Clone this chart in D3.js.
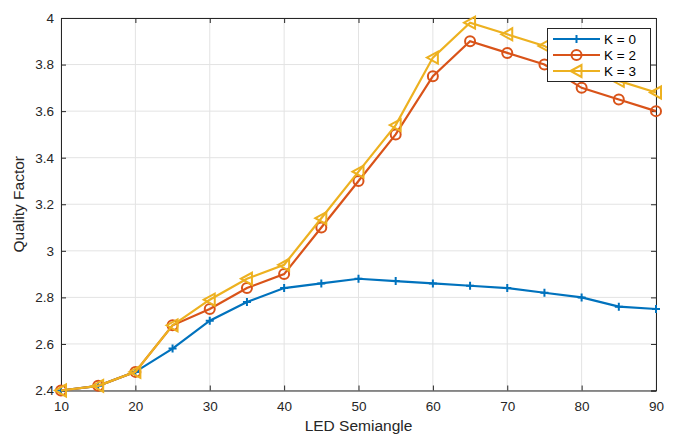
<!DOCTYPE html>
<html><head><meta charset="utf-8">
<script src="https://cdn.jsdelivr.net/npm/d3@7"></script>
<style>body{margin:0;background:#fff}svg{display:block}text{font-family:"Liberation Sans",Arial,Helvetica,sans-serif}</style>
</head><body><svg id="c" width="673" height="437"></svg>
<script>
const xs = [10,15,20,25,30,35,40,45,50,55,60,65,70,75,80,85,90];
const k0 = [2.40,2.42,2.48,2.58,2.70,2.78,2.84,2.86,2.88,2.87,2.86,2.85,2.84,2.82,2.80,2.76,2.75];
const k2 = [2.40,2.42,2.48,2.68,2.75,2.84,2.90,3.10,3.30,3.50,3.75,3.90,3.85,3.80,3.70,3.65,3.60];
const k3 = [2.40,2.42,2.48,2.68,2.79,2.88,2.94,3.14,3.34,3.54,3.83,3.98,3.93,3.88,3.78,3.73,3.68];
const seriesNames = ["K = 0","K = 2","K = 3"];
const xTicks = [10,20,30,40,50,60,70,80,90];
const yTicks = [2.4,2.6,2.8,3,3.2,3.4,3.6,3.8,4];
const colors = ["#0072BD","#D95319","#EDB120"];
const markers = ["plus","circle","triangle"];

const svg = d3.select("#c");
const L=61,R=656,T=18,B=390.5;
const x = d3.scaleLinear().domain([10,90]).range([L,R]);
const y = d3.scaleLinear().domain([2.4,4]).range([B,T]);

// grid
svg.append("g").selectAll("line").data(xTicks).join("line")
  .attr("x1",d=>x(d)).attr("x2",d=>x(d)).attr("y1",T).attr("y2",B)
  .attr("stroke","#e3e3e3").attr("stroke-width",1);
svg.append("g").selectAll("line").data(yTicks).join("line")
  .attr("y1",d=>y(d)).attr("y2",d=>y(d)).attr("x1",L).attr("x2",R)
  .attr("stroke","#e3e3e3").attr("stroke-width",1);

// axes
const ax = svg.append("g").attr("transform",`translate(0,${B})`)
  .call(d3.axisBottom(x).tickValues(xTicks).tickSize(-5).tickPadding(11).tickFormat(d3.format("d")));
const axT = svg.append("g").attr("transform",`translate(0,${T})`)
  .call(d3.axisTop(x).tickValues(xTicks).tickSize(-5).tickFormat(""));
const ay = svg.append("g").attr("transform",`translate(${L},0)`)
  .call(d3.axisLeft(y).tickValues(yTicks).tickSize(-5).tickPadding(7).tickFormat(d=>d3.format("")(+d.toFixed(1))));
const ayR = svg.append("g").attr("transform",`translate(${R},0)`)
  .call(d3.axisRight(y).tickValues(yTicks).tickSize(-5).tickFormat(""));
[ax,axT,ay,ayR].forEach(g=>{
  g.select(".domain").attr("stroke","#262626").attr("stroke-width",1);
  g.selectAll(".tick line").attr("stroke","#262626");
  g.selectAll(".tick text").attr("fill","#262626").style("font-size","13.5px");
});

// series
const data = [k0,k2,k3];
const line = d3.line().x(d=>x(d[0])).y(d=>y(d[1]));
function drawMarker(g, type, color){
  if(type==="plus"){
    g.append("path").attr("d","M-4,0H4M0,-4V4").attr("stroke",color).attr("stroke-width",2).attr("fill","none");
  } else if(type==="circle"){
    g.append("circle").attr("r",5).attr("stroke",color).attr("stroke-width",2).attr("fill","none");
  } else {
    g.append("path").attr("d","M-6,0L5,-6L5,6Z").attr("stroke",color).attr("stroke-width",2).attr("fill","none").attr("stroke-linejoin","miter");
  }
}
data.forEach((vals,i)=>{
  const pts = xs.map((v,j)=>[v,vals[j]]);
  const g = svg.append("g");
  g.append("path").attr("d",line(pts)).attr("fill","none").attr("stroke",colors[i]).attr("stroke-width",2.2);
  pts.forEach(p=>{
    const m = g.append("g").attr("transform",`translate(${x(p[0])},${y(p[1])})`);
    drawMarker(m, markers[i], colors[i]);
  });
});

// legend
const lg = svg.append("g");
lg.append("rect").attr("x",547.5).attr("y",28.5).attr("width",103).attr("height",53)
  .attr("fill","#fff").attr("stroke","#262626").attr("stroke-width",1);
seriesNames.forEach((n,i)=>{
  const yy = 39 + i*16;
  lg.append("line").attr("x1",553).attr("x2",600).attr("y1",yy).attr("y2",yy).attr("stroke",colors[i]).attr("stroke-width",2.2);
  const m = lg.append("g").attr("transform",`translate(576.5,${yy})`);
  drawMarker(m, markers[i], colors[i]);
  lg.append("text").attr("x",604).attr("y",yy+5).text(n).attr("fill","#000").style("font-size","13.5px");
});

// axis titles
svg.append("text").attr("x",(L+R)/2).attr("y",431).attr("text-anchor","middle")
  .style("font-size","15.5px").attr("fill","#262626").text("LED Semiangle");
svg.append("text").attr("transform",`translate(24,${(T+B)/2}) rotate(-90)`).attr("text-anchor","middle")
  .style("font-size","15.5px").attr("fill","#262626").text("Quality Factor");
</script></body></html>
